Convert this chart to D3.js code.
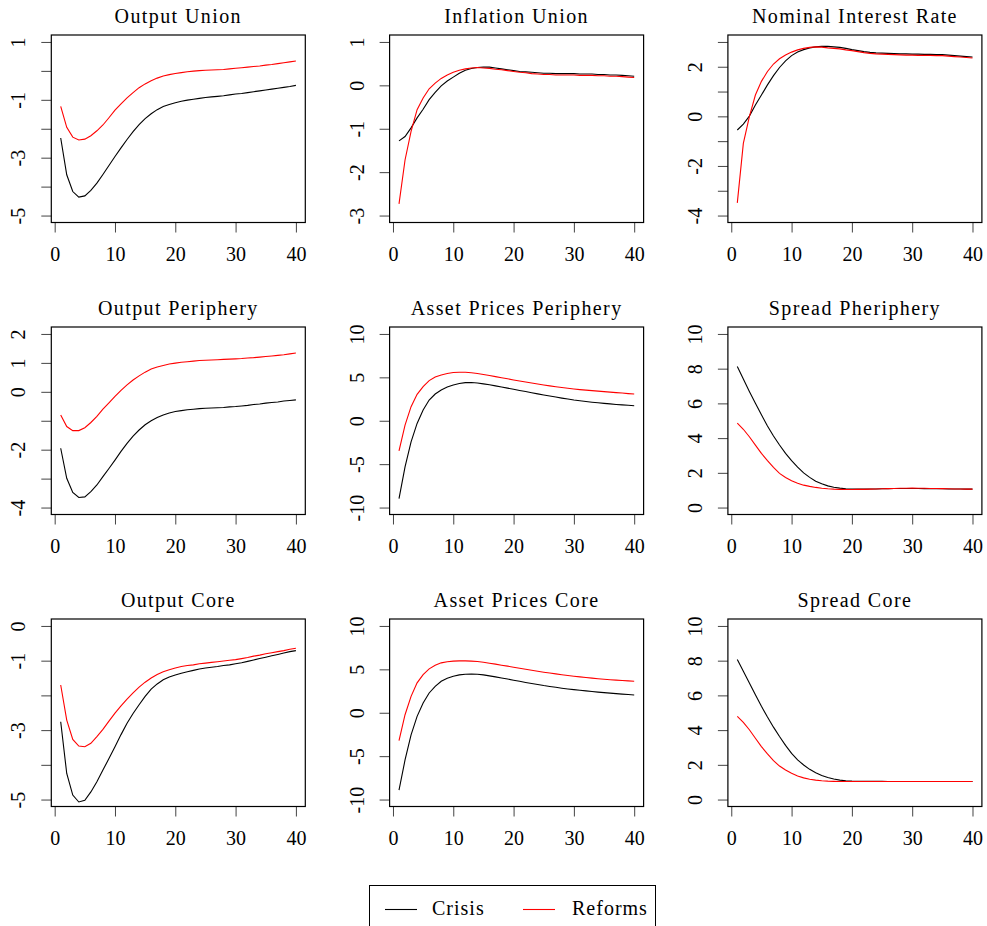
<!DOCTYPE html>
<html>
<head>
<meta charset="utf-8">
<script src="https://cdn.jsdelivr.net/npm/d3@7/dist/d3.min.js"></script>
<style>
body { margin: 0; background: #fff; }
</style>
</head>
<body>
<svg id="chart" width="987" height="926"></svg>
<script>
var periods = [1,2,3,4,5,6,7,8,9,10,11,12,13,14,15,16,17,18,19,20,
	21,22,23,24,25,26,27,28,29,30,31,32,33,34,35,36,37,38,39,40];

var titles = ['Output Union', 'Inflation Union', 'Nominal Interest Rate',
	'Output Periphery', 'Asset Prices Periphery', 'Spread Pheriphery',
	'Output Core', 'Asset Prices Core', 'Spread Core'];

var ylims = [[-5,1], [-3,1], [-4,3], [-4,2], [-10,10], [0,10], [-5,0], [-10,10], [0,10]];

var yticks = [
	[1,0,-1,-2,-3,-4,-5], [1,0,-1,-2,-3], [3,2,1,0,-1,-2,-3,-4],
	[2,1,0,-1,-2,-3,-4], [10,5,0,-5,-10], [0,2,4,6,8,10],
	[0,-1,-2,-3,-4,-5], [10,5,0,-5,-10], [0,2,4,6,8,10]];

var ylabels = [
	[1,-1,-3,-5], [1,0,-1,-2,-3], [2,0,-2,-4],
	[2,1,0,-2,-4], [10,5,0,-5,-10], [0,2,4,6,8,10],
	[0,-1,-3,-5], [10,5,0,-5,-10], [0,2,4,6,8,10]];

var xticks = [0,10,20,30,40];

// crisis scenario (black)
var output_union_crisis = [-2.32,-3.59,-4.17,-4.36,-4.32,-4.13,-3.88,-3.58,-3.27,-2.96,
	-2.66,-2.37,-2.10,-1.86,-1.65,-1.48,-1.34,-1.23,-1.16,-1.10,
	-1.05,-1.01,-0.98,-0.95,-0.92,-0.90,-0.88,-0.86,-0.83,-0.80,
	-0.78,-0.75,-0.72,-0.69,-0.66,-0.63,-0.60,-0.57,-0.54,-0.50];
var inflation_union_crisis = [-1.28,-1.18,-0.98,-0.75,-0.55,-0.33,-0.16,-0.01,0.10,0.19,
	0.28,0.35,0.39,0.41,0.42,0.42,0.40,0.38,0.36,0.34,
	0.32,0.31,0.30,0.29,0.28,0.28,0.27,0.27,0.27,0.27,
	0.26,0.26,0.26,0.25,0.25,0.24,0.24,0.23,0.22,0.21];
var interest_rate_crisis = [-0.55,-0.31,0.01,0.46,0.86,1.27,1.64,1.97,2.24,2.45,
	2.59,2.69,2.76,2.80,2.82,2.82,2.80,2.78,2.74,2.69,
	2.65,2.61,2.58,2.56,2.55,2.54,2.53,2.52,2.52,2.51,
	2.51,2.50,2.50,2.49,2.49,2.47,2.45,2.43,2.41,2.39];
var output_periphery_crisis = [-1.95,-2.99,-3.48,-3.65,-3.63,-3.45,-3.22,-2.93,-2.65,-2.36,
	-2.06,-1.78,-1.53,-1.32,-1.14,-1.00,-0.89,-0.80,-0.73,-0.68,
	-0.65,-0.62,-0.60,-0.58,-0.57,-0.56,-0.55,-0.54,-0.52,-0.51,
	-0.49,-0.47,-0.44,-0.42,-0.39,-0.37,-0.35,-0.32,-0.30,-0.28];
var assets_periphery_crisis = [-8.98,-5.32,-2.43,-0.31,1.23,2.39,3.08,3.55,3.88,4.12,
	4.30,4.39,4.40,4.35,4.25,4.14,4.02,3.89,3.76,3.63,
	3.49,3.36,3.23,3.10,2.97,2.85,2.73,2.61,2.50,2.39,
	2.30,2.22,2.14,2.07,2.00,1.94,1.88,1.83,1.78,1.73];
var spread_periphery_crisis = [8.13,7.40,6.69,6.01,5.34,4.70,4.12,3.60,3.12,2.70,
	2.33,2.00,1.74,1.52,1.37,1.25,1.17,1.12,1.08,1.06,
	1.06,1.06,1.07,1.07,1.08,1.09,1.10,1.10,1.10,1.10,
	1.10,1.09,1.09,1.08,1.08,1.07,1.07,1.07,1.06,1.06];
var output_core_crisis = [-2.76,-4.25,-4.87,-5.07,-5.02,-4.78,-4.49,-4.15,-3.82,-3.48,
	-3.13,-2.80,-2.52,-2.27,-2.03,-1.82,-1.67,-1.55,-1.47,-1.41,
	-1.36,-1.32,-1.28,-1.24,-1.21,-1.19,-1.17,-1.14,-1.12,-1.09,
	-1.06,-1.02,-0.98,-0.94,-0.90,-0.86,-0.82,-0.78,-0.74,-0.71];
var assets_core_crisis = [-8.92,-5.44,-2.55,-0.42,1.12,2.28,3.05,3.63,3.98,4.21,
	4.36,4.44,4.47,4.44,4.36,4.25,4.13,4.01,3.88,3.75,
	3.62,3.49,3.37,3.25,3.13,3.03,2.93,2.83,2.74,2.66,
	2.59,2.52,2.45,2.38,2.32,2.26,2.20,2.15,2.10,2.05];
var spread_core_crisis = [8.07,7.39,6.72,6.04,5.37,4.75,4.17,3.63,3.12,2.66,
	2.29,1.99,1.74,1.54,1.39,1.27,1.18,1.12,1.08,1.06,
	1.05,1.05,1.05,1.05,1.05,1.04,1.04,1.04,1.04,1.04,
	1.04,1.04,1.04,1.04,1.04,1.04,1.04,1.04,1.04,1.04];

// reforms scenario (red)
var output_union_reforms = [-1.23,-1.95,-2.29,-2.39,-2.36,-2.24,-2.07,-1.87,-1.62,-1.36,
	-1.14,-0.93,-0.75,-0.58,-0.45,-0.34,-0.25,-0.18,-0.13,-0.09,
	-0.06,-0.03,-0.01,0.01,0.02,0.03,0.04,0.05,0.07,0.09,
	0.11,0.13,0.15,0.17,0.20,0.22,0.25,0.28,0.31,0.34];
var inflation_union_reforms = [-2.73,-1.72,-1.06,-0.56,-0.29,-0.08,0.05,0.16,0.24,0.30,
	0.35,0.38,0.40,0.41,0.40,0.39,0.37,0.36,0.34,0.32,
	0.30,0.29,0.27,0.26,0.25,0.25,0.24,0.24,0.24,0.24,
	0.23,0.23,0.23,0.22,0.22,0.21,0.21,0.20,0.19,0.18];
var interest_rate_reforms = [-3.49,-1.09,-0.01,0.86,1.41,1.81,2.11,2.32,2.47,2.59,
	2.68,2.74,2.78,2.80,2.79,2.76,2.74,2.72,2.68,2.65,
	2.61,2.57,2.54,2.52,2.51,2.50,2.49,2.48,2.47,2.47,
	2.46,2.46,2.46,2.45,2.45,2.43,2.41,2.39,2.37,2.35];
var output_periphery_reforms = [-0.80,-1.20,-1.34,-1.34,-1.24,-1.06,-0.85,-0.60,-0.38,-0.16,
	0.05,0.24,0.41,0.55,0.68,0.79,0.86,0.91,0.96,0.99,
	1.02,1.04,1.06,1.08,1.09,1.10,1.11,1.12,1.13,1.14,
	1.15,1.17,1.18,1.20,1.22,1.24,1.26,1.28,1.31,1.34];
var assets_periphery_reforms = [-3.47,-0.50,1.62,3.04,3.93,4.62,5.05,5.28,5.45,5.55,
	5.59,5.59,5.53,5.45,5.33,5.21,5.08,4.95,4.83,4.70,
	4.58,4.46,4.34,4.23,4.12,4.02,3.92,3.83,3.74,3.66,
	3.59,3.53,3.47,3.41,3.35,3.30,3.24,3.19,3.13,3.08];
var spread_periphery_reforms = [4.86,4.51,4.08,3.60,3.12,2.70,2.31,1.97,1.73,1.54,
	1.40,1.29,1.22,1.16,1.11,1.08,1.06,1.05,1.04,1.04,
	1.05,1.05,1.06,1.07,1.08,1.09,1.10,1.11,1.11,1.12,
	1.11,1.11,1.10,1.10,1.09,1.08,1.07,1.07,1.06,1.06];
var output_core_reforms = [-1.70,-2.71,-3.27,-3.46,-3.48,-3.38,-3.19,-2.98,-2.74,-2.51,
	-2.30,-2.11,-1.93,-1.76,-1.62,-1.50,-1.40,-1.32,-1.26,-1.21,
	-1.17,-1.14,-1.12,-1.09,-1.07,-1.05,-1.03,-1.01,-0.99,-0.97,
	-0.94,-0.91,-0.87,-0.84,-0.80,-0.77,-0.74,-0.71,-0.67,-0.64];
var assets_core_reforms = [-3.20,-0.23,1.89,3.44,4.40,5.06,5.48,5.75,5.88,5.95,
	5.98,5.98,5.95,5.91,5.82,5.71,5.60,5.48,5.37,5.25,
	5.13,5.01,4.90,4.78,4.67,4.57,4.48,4.38,4.29,4.21,
	4.13,4.06,3.99,3.92,3.86,3.81,3.76,3.71,3.67,3.63];
var spread_core_reforms = [4.79,4.44,4.02,3.53,3.05,2.63,2.24,1.93,1.70,1.51,
	1.36,1.25,1.17,1.12,1.08,1.06,1.05,1.04,1.04,1.04,
	1.04,1.04,1.04,1.04,1.04,1.04,1.04,1.04,1.04,1.04,
	1.04,1.04,1.04,1.04,1.04,1.04,1.04,1.04,1.04,1.04];

var crisis = [output_union_crisis, inflation_union_crisis, interest_rate_crisis,
	output_periphery_crisis, assets_periphery_crisis, spread_periphery_crisis,
	output_core_crisis, assets_core_crisis, spread_core_crisis];
var reforms = [output_union_reforms, inflation_union_reforms, interest_rate_reforms,
	output_periphery_reforms, assets_periphery_reforms, spread_periphery_reforms,
	output_core_reforms, assets_core_reforms, spread_core_reforms];

var legend_names = ['Crisis', 'Reforms'];
var legend_colors = ['#000000', '#ff0000'];

var FONT = '"Liberation Serif", "Times New Roman", serif';

var svg = d3.select('#chart');

// set the serif font inline so the axis defaults do not win
var serif = function (sel, spacing) {
	sel.style('font-family', FONT).style('font-size', '20px').style('fill', '#000');
	if (spacing) sel.style('letter-spacing', spacing + 'px');
	return sel;
};

// R style 4% padding on both ends
var pad = function (lim) {
	var r = lim[1] - lim[0];
	return [lim[0] - 0.04*r, lim[1] + 0.04*r];
};

var irf_panel = function (i) {
	var self = this;
	self.i = i;
	self.left = 51.3 + 338.3*(i % 3);
	self.top = 35 + 292*Math.floor(i / 3);
	self.width = 254;
	self.height = 187.5;
	self.g = svg.append('g');
	return self;
};

irf_panel.prototype.draw = function () {
	var self = this;
	var i = self.i;
	var L = self.left, T = self.top, W = self.width, H = self.height;

	var x = d3.scaleLinear().domain(pad([periods[0], periods[periods.length-1]])).range([L, L+W]);
	var y = d3.scaleLinear().domain(pad(ylims[i])).range([T+H, T]);

	var labels = ylabels[i];
	var ya = self.g.append('g')
		.attr('transform', 'translate(' + L + ',0)')
		.call(d3.axisLeft(y).tickValues(yticks[i]).tickSize(10)
			.tickFormat(function (d) { return labels.indexOf(d) >= 0 ? d : ''; }));
	ya.select('.domain').remove();
	ya.selectAll('.tick line').attr('stroke', '#444');
	serif(ya.selectAll('.tick text'))
		.attr('x', 0).attr('dy', 0)
		.attr('text-anchor', 'middle')
		.attr('transform', 'translate(-26,0) rotate(-90)');

	var xa = self.g.append('g')
		.attr('transform', 'translate(0,' + (T+H) + ')')
		.call(d3.axisBottom(x).tickValues(xticks).tickSize(10));
	xa.select('.domain').remove();
	xa.selectAll('.tick line').attr('stroke', '#444');
	serif(xa.selectAll('.tick text')).attr('y', 38).attr('dy', 0);

	var line = d3.line()
		.x(function (d, j) { return x(periods[j]); })
		.y(function (d) { return y(d); });

	self.g.append('path').datum(crisis[i])
		.attr('d', line).attr('fill', 'none').attr('stroke', legend_colors[0]).attr('stroke-width', 1.1);
	self.g.append('path').datum(reforms[i])
		.attr('d', line).attr('fill', 'none').attr('stroke', legend_colors[1]).attr('stroke-width', 1.1);

	self.g.append('rect')
		.attr('x', L).attr('y', T).attr('width', W).attr('height', H)
		.attr('fill', 'none').attr('stroke', '#000').attr('stroke-width', 1.2);

	serif(self.g.append('text'), 1.4)
		.attr('x', L + W/2).attr('y', T - 12.5)
		.attr('text-anchor', 'middle')
		.text(titles[i]);

	return self;
};

titles.forEach(function (t, i) { new irf_panel(i).draw(); });

// legend at the bottom, box runs off the page like the original
var lg = svg.append('g');
lg.append('rect').attr('x', 369.5).attr('y', 885.5).attr('width', 286).attr('height', 60)
	.attr('fill', 'none').attr('stroke', '#000').attr('stroke-width', 1);
var lx = [385, 523];
var tx = [432, 572];
legend_names.forEach(function (name, k) {
	lg.append('line').attr('x1', lx[k]).attr('x2', lx[k] + 32).attr('y1', 909.5).attr('y2', 909.5)
		.attr('stroke', legend_colors[k]).attr('stroke-width', 1.1);
	serif(lg.append('text'), 1).attr('x', tx[k]).attr('y', 915).text(name);
});
</script>
</body>
</html>
